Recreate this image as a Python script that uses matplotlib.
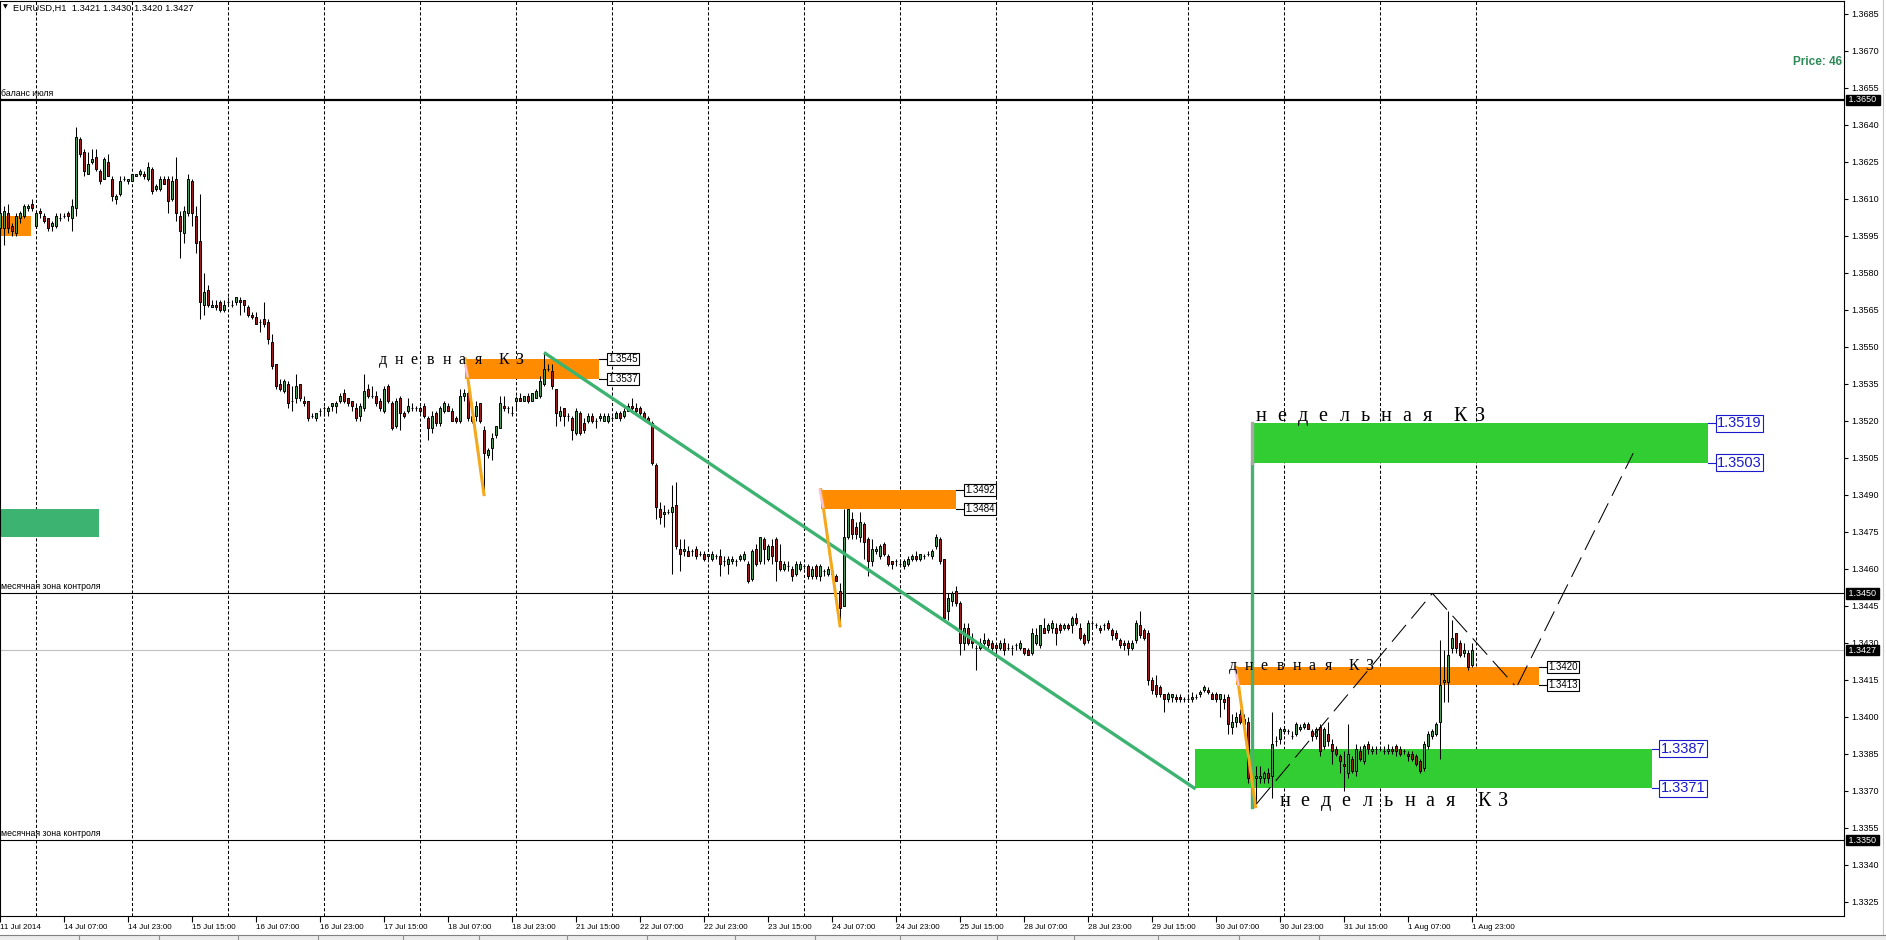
import numpy as np
import matplotlib
matplotlib.use('Agg')
import matplotlib.pyplot as plt
from matplotlib.patches import Rectangle
from matplotlib.lines import Line2D

plt.rcParams['font.family'] = ['Liberation Sans', 'DejaVu Sans']

# EURUSD H1, bar 0 = 11 Jul 2014 15:00; prices in pips above 1.3000
open_pips = [
    598, 598, 604, 599, 596, 602, 603, 606, 608, 599,
    605, 603, 602, 599, 599, 602, 603, 604, 602, 606,
    634, 629, 620, 625, 627, 621, 618, 625, 618, 610,
    612, 618, 617, 617, 619, 620, 620, 618, 622, 614,
    614, 618, 618, 610, 618, 603, 596, 604, 617, 603,
    593, 567, 573, 566, 567, 568, 565, 568, 567, 568,
    569, 569, 566, 563, 562, 560, 561, 560, 552, 543,
    535, 532, 535, 528, 529, 535, 528, 528, 522, 521,
    524, 525, 524, 526, 526, 528, 531, 529, 528, 525,
    522, 525, 533, 530, 530, 528, 524, 534, 527, 518,
    529, 523, 524, 525, 525, 525, 526, 521, 517, 523,
    519, 524, 526, 524, 521, 520, 530, 531, 522, 522,
    527, 516, 506, 509, 514, 517, 526, 525, 523, 528,
    529, 528, 530, 528, 529, 530, 535, 541, 540, 533,
    522, 525, 522, 521, 515, 523, 519, 520, 522, 520,
    521, 520, 520, 521, 521, 523, 522, 524, 526, 525,
    525, 523, 521, 519, 502, 484, 482, 483, 483, 486,
    468, 467, 467, 467, 468, 466, 466, 465, 464, 465,
    465, 463, 462, 463, 463, 464, 464, 462, 456, 468,
    463, 472, 464, 469, 472, 463, 460, 461, 460, 458,
    460, 461, 461, 457, 461, 457, 459, 458, 458, 457,
    451, 445, 473, 480, 477, 473, 478, 472, 463, 467,
    465, 470, 465, 463, 463, 462, 461, 462, 464, 465,
    464, 465, 466, 465, 469, 472, 464, 443, 447, 451,
    446, 430, 436, 432, 428, 428, 430, 431, 430, 429,
    428, 430, 428, 428, 429, 428, 428, 427, 426, 430,
    429, 436, 435, 436, 436, 437, 436, 437, 437, 440,
    436, 433, 431, 438, 437, 436, 437, 438, 435, 434,
    431, 430, 430, 428, 431, 437, 435, 434, 415, 413,
    412, 409, 407, 408, 408, 408, 407, 407, 407, 408,
    409, 411, 411, 409, 409, 407, 407, 408, 396, 398,
    401, 399, 398, 375, 375, 375, 375, 377, 376, 390,
    391, 394, 394, 392, 393, 395, 396, 397, 394, 392,
    396, 388, 393, 389, 387, 384, 381, 377, 383, 378,
    386, 382, 389, 386, 387, 387, 386, 386, 387, 388,
    387, 386, 385, 385, 384, 382, 379, 388, 392, 393,
    398, 414, 414, 428, 434, 430, 426, 426, 421]
high_pips = [
    606, 607, 608, 600, 604, 605, 608, 608, 610, 605,
    606, 604, 602, 601, 604, 604, 604, 605, 610, 639,
    635, 630, 629, 630, 630, 622, 627, 628, 619, 612,
    619, 619, 618, 620, 620, 622, 621, 625, 623, 616,
    619, 619, 619, 619, 627, 605, 607, 620, 618, 607,
    612, 580, 575, 569, 569, 569, 569, 570, 569, 570,
    570, 569, 567, 564, 564, 561, 568, 561, 555, 543,
    537, 537, 536, 534, 539, 535, 530, 528, 523, 523,
    525, 526, 526, 527, 528, 531, 533, 529, 528, 527,
    527, 539, 535, 534, 532, 529, 534, 535, 528, 529,
    530, 524, 529, 527, 526, 526, 527, 522, 524, 524,
    526, 528, 527, 525, 522, 533, 533, 532, 523, 528,
    527, 518, 509, 515, 518, 530, 530, 526, 526, 530,
    531, 530, 531, 531, 533, 538, 548, 543, 543, 533,
    526, 525, 523, 522, 525, 524, 521, 523, 523, 521,
    523, 523, 523, 522, 524, 524, 525, 527, 529, 527,
    526, 524, 522, 520, 503, 487, 486, 484, 494, 495,
    472, 472, 469, 468, 469, 467, 467, 466, 467, 466,
    468, 465, 465, 465, 464, 466, 467, 463, 468, 470,
    473, 473, 470, 472, 473, 470, 463, 463, 461, 463,
    463, 462, 462, 461, 462, 462, 460, 461, 461, 458,
    454, 484, 484, 483, 479, 483, 479, 473, 472, 469,
    470, 471, 466, 463, 464, 463, 464, 465, 466, 467,
    466, 466, 467, 468, 474, 473, 464, 450, 451, 453,
    447, 438, 438, 434, 429, 432, 434, 432, 431, 430,
    431, 432, 430, 429, 430, 431, 428, 428, 436, 436,
    437, 440, 438, 439, 438, 438, 438, 438, 441, 442,
    438, 434, 439, 439, 438, 437, 438, 439, 436, 435,
    432, 431, 431, 431, 439, 443, 436, 435, 416, 417,
    413, 409, 410, 409, 409, 409, 408, 409, 410, 409,
    411, 413, 412, 410, 410, 409, 409, 409, 401, 402,
    403, 401, 400, 379, 380, 380, 378, 379, 402, 392,
    396, 396, 395, 394, 398, 397, 398, 398, 395, 396,
    397, 396, 398, 391, 388, 385, 386, 397, 384, 389,
    388, 389, 390, 388, 388, 388, 388, 389, 388, 389,
    388, 387, 386, 386, 385, 383, 390, 394, 395, 398,
    431, 427, 443, 439, 434, 431, 430, 427, 430]
low_pips = [
    595, 591, 596, 595, 595, 600, 602, 605, 605, 598,
    602, 600, 597, 597, 598, 601, 602, 601, 597, 603,
    627, 619, 620, 624, 621, 616, 618, 619, 609, 608,
    611, 617, 616, 617, 619, 619, 618, 617, 612, 613,
    613, 616, 604, 609, 601, 586, 592, 603, 599, 588,
    561, 563, 566, 566, 565, 564, 564, 567, 566, 567,
    563, 564, 562, 561, 559, 556, 558, 551, 541, 533,
    532, 531, 525, 524, 527, 528, 526, 520, 521, 520,
    522, 522, 522, 524, 523, 527, 527, 526, 524, 520,
    520, 524, 529, 529, 526, 524, 523, 527, 516, 517,
    516, 521, 523, 524, 524, 523, 521, 512, 515, 518,
    518, 523, 524, 520, 519, 519, 528, 520, 519, 520,
    519, 490, 505, 504, 513, 517, 524, 523, 522, 524,
    528, 528, 527, 528, 529, 529, 534, 540, 533, 518,
    520, 518, 520, 512, 514, 514, 515, 519, 519, 517,
    520, 520, 519, 520, 521, 520, 521, 524, 524, 523,
    522, 520, 519, 502, 480, 478, 477, 482, 458, 468,
    459, 465, 465, 465, 464, 465, 463, 464, 463, 464,
    457, 461, 458, 462, 461, 463, 463, 454, 455, 461,
    462, 462, 463, 462, 455, 459, 459, 459, 455, 457,
    459, 460, 456, 456, 456, 455, 457, 457, 456, 455,
    438, 445, 472, 472, 472, 471, 464, 457, 461, 466,
    464, 465, 461, 460, 461, 461, 460, 461, 463, 463,
    463, 464, 465, 464, 468, 462, 440, 439, 445, 445,
    425, 427, 429, 428, 419, 427, 429, 428, 427, 425,
    427, 425, 427, 425, 427, 427, 425, 425, 425, 429,
    428, 434, 434, 434, 429, 434, 435, 435, 434, 437,
    431, 429, 430, 436, 436, 434, 435, 435, 431, 431,
    428, 427, 425, 427, 430, 432, 431, 413, 409, 408,
    408, 402, 406, 406, 406, 406, 406, 406, 406, 407,
    408, 410, 409, 407, 406, 400, 403, 393, 393, 396,
    397, 396, 373, 364, 365, 373, 373, 373, 367, 388,
    389, 393, 393, 391, 392, 394, 395, 395, 390, 391,
    384, 387, 388, 381, 384, 377, 370, 375, 377, 376,
    382, 381, 385, 385, 385, 386, 385, 385, 385, 384,
    384, 385, 382, 382, 380, 377, 378, 387, 391, 392,
    383, 406, 406, 426, 426, 424, 424, 419, 420]
close_pips = [
    604, 605, 598, 597, 603, 604, 607, 607, 606, 604,
    604, 601, 598, 600, 603, 602, 603, 603, 607, 635,
    628, 621, 624, 626, 622, 617, 626, 619, 611, 611,
    617, 618, 618, 620, 620, 621, 619, 623, 613, 615,
    618, 616, 609, 617, 604, 597, 605, 618, 604, 592,
    568, 572, 567, 567, 566, 565, 567, 568, 567, 570,
    568, 567, 563, 562, 559, 560, 559, 553, 542, 534,
    533, 536, 527, 528, 534, 529, 527, 521, 522, 523,
    524, 525, 525, 527, 527, 530, 528, 527, 526, 521,
    526, 532, 530, 530, 527, 525, 533, 528, 517, 528,
    523, 522, 526, 525, 525, 524, 522, 517, 522, 519,
    525, 527, 524, 520, 520, 530, 531, 521, 520, 526,
    520, 507, 508, 513, 518, 527, 525, 525, 523, 529,
    528, 530, 528, 531, 532, 536, 541, 541, 534, 523,
    524, 522, 522, 516, 524, 515, 516, 522, 520, 520,
    522, 522, 522, 521, 523, 521, 524, 526, 525, 524,
    523, 521, 520, 503, 485, 481, 483, 483, 485, 469,
    466, 468, 465, 467, 465, 466, 464, 466, 466, 465,
    462, 463, 464, 464, 463, 465, 466, 455, 467, 462,
    473, 468, 469, 465, 463, 460, 462, 461, 457, 462,
    462, 461, 457, 460, 457, 461, 459, 460, 459, 455,
    444, 473, 484, 474, 474, 479, 471, 463, 468, 468,
    469, 466, 462, 462, 463, 462, 463, 464, 465, 464,
    466, 465, 466, 467, 473, 463, 440, 448, 450, 446,
    430, 436, 430, 430, 428, 430, 431, 429, 428, 428,
    430, 427, 428, 428, 429, 430, 426, 425, 434, 433,
    437, 434, 437, 438, 434, 435, 437, 436, 440, 438,
    432, 430, 438, 438, 437, 435, 437, 436, 433, 432,
    429, 429, 428, 430, 438, 433, 432, 415, 411, 409,
    409, 407, 409, 409, 407, 407, 407, 407, 408, 408,
    410, 412, 410, 407, 407, 409, 406, 397, 398, 400,
    398, 397, 375, 367, 376, 376, 377, 375, 389, 390,
    395, 395, 394, 392, 397, 396, 397, 395, 392, 395,
    386, 395, 390, 386, 385, 382, 380, 385, 378, 387,
    383, 388, 387, 387, 387, 387, 386, 387, 386, 386,
    385, 386, 384, 383, 381, 378, 389, 393, 394, 397,
    413, 415, 425, 432, 428, 425, 427, 420, 427]

tick_bars = [0, 16, 32, 48, 64, 80, 96, 112, 128, 144, 160, 176, 192,
             208, 224, 240, 256, 272, 288, 304, 320, 336, 352, 368]
tick_labels = ['11 Jul 2014', '14 Jul 07:00', '14 Jul 23:00', '15 Jul 15:00',
               '16 Jul 07:00', '16 Jul 23:00', '17 Jul 15:00', '18 Jul 07:00',
               '18 Jul 23:00', '21 Jul 15:00', '22 Jul 07:00', '22 Jul 23:00',
               '23 Jul 15:00', '24 Jul 07:00', '24 Jul 23:00', '25 Jul 15:00',
               '28 Jul 07:00', '28 Jul 23:00', '29 Jul 15:00', '30 Jul 07:00',
               '30 Jul 23:00', '31 Jul 15:00', '1 Aug 07:00', '1 Aug 23:00']
day_starts = [9, 33, 57, 81, 105, 129, 153, 177, 201, 225, 249, 273,
              297, 321, 345, 369]
price_ticks = [1.3685, 1.3670, 1.3655, 1.3640, 1.3625, 1.3610, 1.3595, 1.3580,
               1.3565, 1.3550, 1.3535, 1.3520, 1.3505, 1.3490, 1.3475, 1.3460,
               1.3445, 1.3430, 1.3415, 1.3400, 1.3385, 1.3370, 1.3355, 1.3340,
               1.3325]

# horizontal levels
levels = [1.3650, 1.3450, 1.3350]
level_names = ['баланс июля', 'месячная зона контроля', 'месячная зона контроля']
bid = 1.3427

# zones: bar from, bar to, low, high
daily_zones = [(116.2, 149.8, 1.3537, 1.3545), (205.2, 239.0, 1.3484, 1.3492),
               (309.0, 384.8, 1.3413, 1.3420)]
old_daily_zone = (0.0, 7.8, 1.3595, 1.3603)
weekly_zones = [(313.1, 427.0, 1.3503, 1.3519), (298.8, 412.9, 1.3371, 1.3387)]
old_weekly_zone = (0.0, 24.8, 1.3473, 1.3484)

# impulse lines from each daily zone down to the swing low
knee_bars = [(116.3, 121.0), (205.2, 210.0), (309.0, 313.9)]
knee_prices = [(1.3545, 1.3490), (1.3492, 1.34368), (1.3420, 1.33635)]

trend_bars = [136.0, 298.9]
trend_prices = [1.35476, 1.33707]
impulse_bar = 313.1
impulse_prices = [1.33635, 1.3503, 1.3519]

path_bars = [314.1, 358.1, 378.6, 379.4, 408.3]
path_prices = [1.33646, 1.3450, 1.34128, 1.34128, 1.35068]

o = 1.3 + np.array(open_pips) / 10000
h = 1.3 + np.array(high_pips) / 10000
l = 1.3 + np.array(low_pips) / 10000
c = 1.3 + np.array(close_pips) / 10000
x = np.arange(len(o))

fig = plt.figure(figsize=(18.86, 9.40), dpi=100)
ax = fig.add_axes([0, 24 / 940, 1844 / 1886, 915 / 940])
ax.set_xlim(0, 461)
ax.set_ylim(1.33192, 1.36901)

for d in day_starts:
    ax.axvline(d, color='black', lw=0.75, ls=(0, (3, 2)), zorder=1)

orange = '#FF8C00'
lime = '#32CD32'
for (b0, b1, p0, p1) in daily_zones + [old_daily_zone]:
    ax.add_patch(Rectangle((b0, p0), b1 - b0, p1 - p0, fc=orange, ec='none', zorder=1.5))
for (b0, b1, p0, p1) in weekly_zones:
    ax.add_patch(Rectangle((b0, p0), b1 - b0, p1 - p0, fc=lime, ec='none', zorder=1.5))
b0, b1, p0, p1 = old_weekly_zone
ax.add_patch(Rectangle((b0, p0), b1 - b0, p1 - p0, fc='#3CB371', ec='none', zorder=1.5))

ax.axhline(levels[0], color='black', lw=1.6, zorder=2)
ax.axhline(levels[1], color='black', lw=0.8, zorder=2)
ax.axhline(levels[2], color='black', lw=0.8, zorder=2)
ax.axhline(bid, color='#c0c0c0', lw=0.8, zorder=2)
for lvl, name in zip(levels, level_names):
    ax.annotate(name, xy=(0, lvl), xycoords=('axes fraction', 'data'), xytext=(0.5, 1.5),
                textcoords='offset points', fontsize=6.3, va='bottom', ha='left', zorder=6)

# candles
up = c >= o
ax.vlines(x, l, h, color='black', lw=0.75, zorder=3)
ax.bar(x[up], (c - o)[up], bottom=o[up], width=0.55, color='#4c9a5a',
       edgecolor='black', linewidth=0.7, zorder=4)
ax.bar(x[~up], (c - o)[~up], bottom=o[~up], width=0.55, color='#9e1b1b',
       edgecolor='black', linewidth=0.7, zorder=4)

# drawn objects
ax.plot(trend_bars, trend_prices, color='#3CB371', lw=2.4, zorder=5, solid_capstyle='butt')
ax.plot([impulse_bar, impulse_bar], impulse_prices[:2], color='#4caf72', lw=2.4, zorder=5)
ax.plot([impulse_bar, impulse_bar], impulse_prices[1:], color='#a8a8a8', lw=2.4, zorder=5)
for (kb, kp) in zip(knee_bars, knee_prices):
    ax.plot(kb, kp, color='#F4A81C', lw=2.2, zorder=5)
    ax.plot([kb[0] - 0.3, kb[0] + 0.6], [kp[0], kp[0] - 0.0007], color='#f7c4dc', lw=1.6, zorder=5)

legs = [(0, 1), (1, 2), (3, 4)]
for a, b in legs:
    ax.plot([path_bars[a], path_bars[b]], [path_prices[a], path_prices[b]],
            color='black', lw=0.75, ls=(0, (21, 8)), zorder=5)


def zone_tag(x_end, price, color, size):
    ax.plot([x_end, x_end + 2], [price, price], color=color, lw=0.8, zorder=5)
    ax.text(x_end + 2.3, price, '%.4f' % price, color=color, fontsize=size, va='center',
            ha='left', zorder=6,
            bbox=dict(boxstyle='square,pad=0.1', fc='white', ec=color, lw=0.8))


for (b0, b1, p0, p1) in daily_zones:
    zone_tag(b1, p1, 'black', 7)
    zone_tag(b1, p0, 'black', 7)
for (b0, b1, p0, p1) in weekly_zones:
    zone_tag(b1, p1, '#1a1acd', 10.5)
    zone_tag(b1, p0, '#1a1acd', 10.5)


def spaced_text(bar, price, text, pitch, size):
    # terminal text object: every character on a fixed pitch (points)
    for k, ch in enumerate(text):
        if ch == ' ':
            continue
        ax.annotate(ch, xy=(bar, price), xytext=(k * pitch, 0), textcoords='offset points',
                    ha='left', va='center', family='Liberation Serif', fontsize=size, zorder=6)


day_text = 'д н е в н а я  К З'
week_text = 'н е д е л ь н а я  К З'
spaced_text(94.7, 1.35446, day_text, 5.76, 11.5)
spaced_text(307.2, 1.34205, day_text, 5.76, 11.5)
spaced_text(314.0, 1.35215, week_text, 7.5, 14.5)
spaced_text(319.8, 1.33656, week_text, 7.5, 14.5)

# header and info
ax.text(0.0016, 0.9965, '▼', transform=ax.transAxes, fontsize=4.5, va='top',
        family='DejaVu Sans', zorder=6)
ax.text(0.007, 0.9968, 'EURUSD,H1  1.3421 1.3430 1.3420 1.3427', transform=ax.transAxes,
        fontsize=6.7, va='top', zorder=6)
ax.text(0.9988, 0.9333, 'Price: 46', transform=ax.transAxes, ha='right', va='center',
        color='#2E8B57', fontweight='bold', fontsize=8.5, zorder=6)

# axes
ax.yaxis.tick_right()
ax.set_yticks(price_ticks)
ax.set_yticklabels(['%.4f' % p for p in price_ticks])
ax.tick_params(axis='y', direction='out', length=3, width=0.8, labelsize=6.5, pad=2)
ax.set_xticks(tick_bars)
ax.set_xticklabels(tick_labels, ha='left')
ax.tick_params(axis='x', direction='out', length=4, width=0.8, labelsize=5.8, pad=1.5)
for s in ax.spines.values():
    s.set_color('black')
    s.set_linewidth(0.8)

for p in levels + [bid]:
    ax.annotate(' %.4f ' % p, xy=(1, p), xycoords=('axes fraction', 'data'), xytext=(1.6, 0),
                textcoords='offset points', ha='left', va='center', color='white', fontsize=6.5,
                annotation_clip=False, zorder=7,
                bbox=dict(boxstyle='square,pad=0.08', fc='black', ec='black'))

# terminal frame and tab strip
fig.add_artist(Line2D([1883 / 1886, 1883 / 1886], [6 / 940, 1], color='#c8c8c8', lw=0.8))
fig.add_artist(Rectangle((0, 0), 1, 5 / 940, transform=fig.transFigure, fc='#ececec', ec='none'))
fig.add_artist(Line2D([0, 1], [5.5 / 940, 5.5 / 940], color='#808080', lw=0.8))
for tx in [79, 159, 238, 318, 403, 479, 567, 647, 735, 815, 900, 997, 1074, 1158, 1239, 1319]:
    fig.add_artist(Line2D([tx / 1886, tx / 1886], [0, 5 / 940], color='#909090', lw=0.8))

fig.savefig('out.png', dpi=100)
